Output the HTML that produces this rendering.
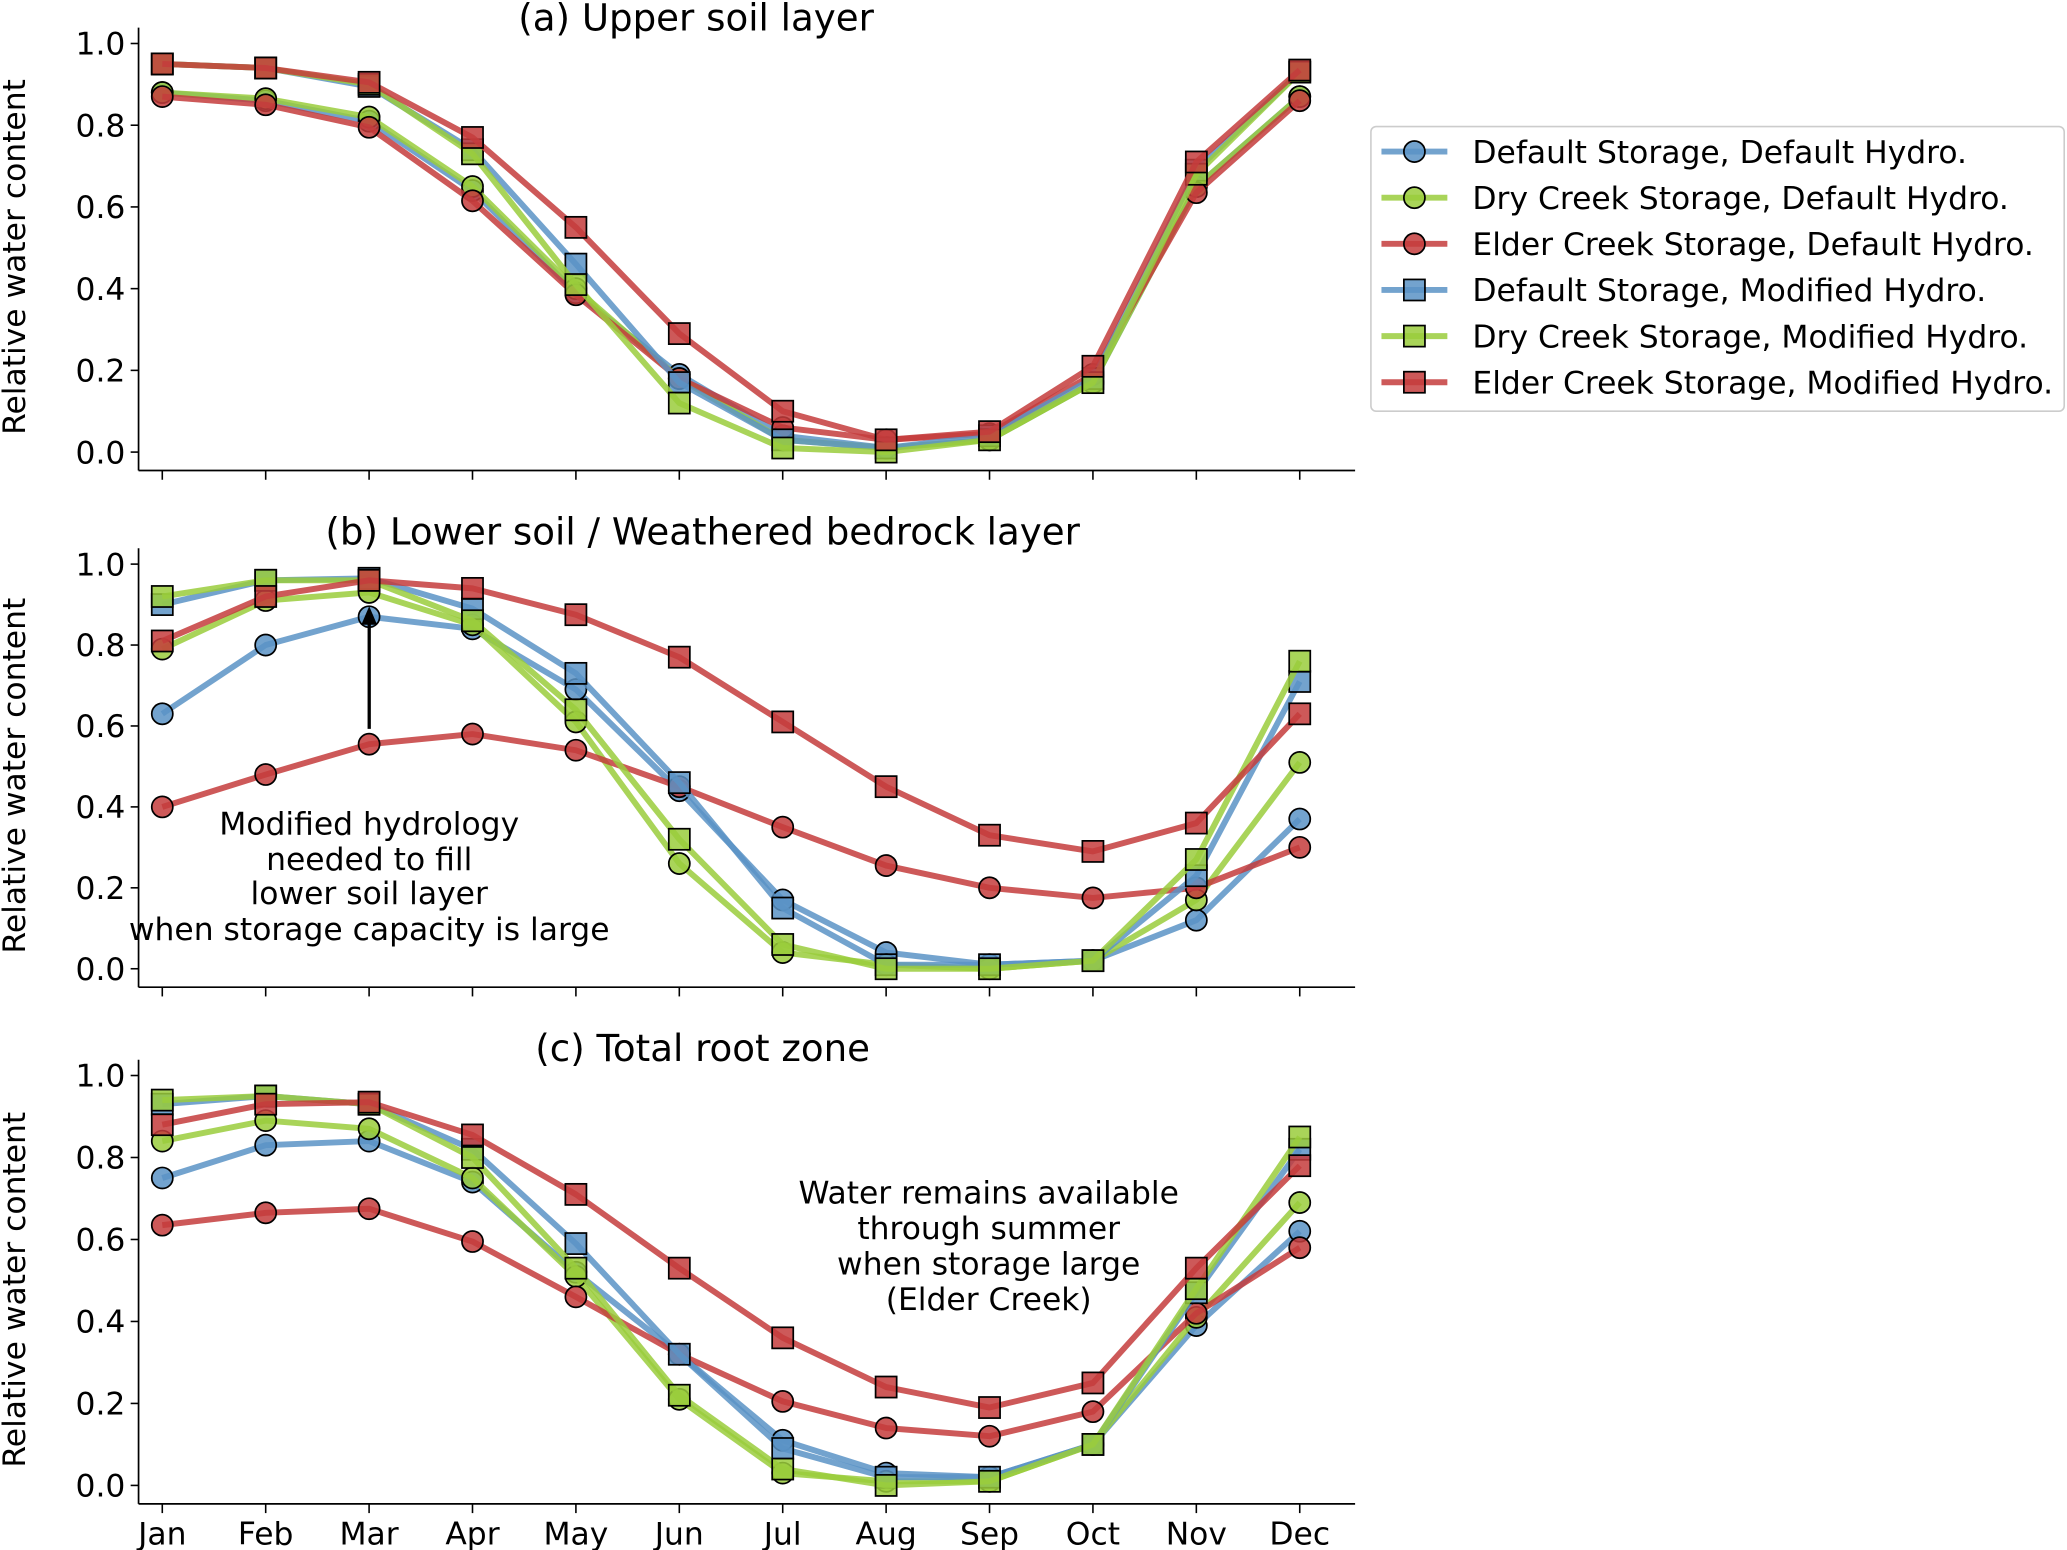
<!DOCTYPE html>
<html><head><meta charset="utf-8"><style>
html,body{margin:0;padding:0;background:#fff;}
svg{display:block;font-family:"DejaVu Sans","Liberation Sans",sans-serif;}
</style></head><body>
<svg id="chart" width="2067" height="1550" viewBox="0 0 1568 1176" xmlns="http://www.w3.org/2000/svg"></svg>
<script>
const months = ["Jan","Feb","Mar","Apr","May","Jun","Jul","Aug","Sep","Oct","Nov","Dec"];
const yTicks = [0,0.2,0.4,0.6,0.8,1.0];
const seriesNames = ["Default Storage, Default Hydro.","Dry Creek Storage, Default Hydro.","Elder Creek Storage, Default Hydro.","Default Storage, Modified Hydro.","Dry Creek Storage, Modified Hydro.","Elder Creek Storage, Modified Hydro."];
const panelTitles = ["(a)  Upper soil layer","(b) Lower soil / Weathered bedrock layer","(c) Total root zone"];
const upperData = [
 [.88,.86,.81,.64,.39,.19,.04,.01,.03,.17,.65,.87],
 [.88,.865,.82,.65,.40,.18,.03,.01,.03,.17,.65,.87],
 [.87,.85,.795,.615,.385,.18,.06,.03,.045,.19,.635,.86],
 [.95,.94,.895,.74,.46,.17,.03,.01,.04,.18,.69,.93],
 [.95,.94,.90,.73,.41,.12,.01,0,.03,.17,.68,.93],
 [.95,.94,.905,.77,.55,.29,.10,.03,.05,.21,.71,.935]];
const lowerData = [
 [.63,.80,.87,.84,.69,.44,.17,.04,.01,.02,.12,.37],
 [.79,.91,.93,.85,.61,.26,.04,.01,0,.02,.17,.51],
 [.40,.48,.555,.58,.54,.45,.35,.255,.20,.175,.20,.30],
 [.90,.96,.965,.89,.73,.46,.15,.01,.01,.02,.23,.71],
 [.92,.96,.96,.86,.64,.32,.06,0,0,.02,.27,.76],
 [.81,.92,.96,.94,.875,.77,.61,.45,.33,.29,.36,.63]];
const totalData = [
 [.75,.83,.84,.74,.52,.32,.11,.03,.02,.10,.39,.62],
 [.84,.89,.87,.75,.51,.21,.03,.01,.01,.10,.41,.69],
 [.635,.665,.675,.595,.46,.32,.205,.14,.12,.18,.42,.58],
 [.93,.95,.93,.82,.59,.32,.09,.02,.02,.10,.47,.82],
 [.94,.95,.93,.80,.53,.22,.04,0,.01,.10,.48,.85],
 [.88,.93,.935,.855,.71,.53,.36,.24,.19,.25,.53,.78]];

const colors=["#5b93c5","#9acd3c","#c43c3c","#5b93c5","#9acd3c","#c43c3c"];
const shapes=["c","c","c","s","s","s"];
const NS="http://www.w3.org/2000/svg";
const svg=document.getElementById('chart');
function el(tag,attrs,parent){const e=document.createElementNS(NS,tag);for(const k in attrs)e.setAttribute(k,attrs[k]);(parent||svg).appendChild(e);return e;}
function txt(s,attrs,parent){const t=el('text',attrs,parent);t.textContent=s;return t;}
const FS=23.8;
const X0=123,X1=986;
const xs=i=>X0+(X1-X0)*i/11;
const panels=[{d:upperData,top:33,bot:343,axis:357,tY:13},{d:lowerData,top:428,bot:735,axis:749,tY:403},{d:totalData,top:816,bot:1127,axis:1141,tY:795}];
const pnames=['upper-soil-panel','lower-soil-panel','total-root-zone-panel'];
panels.forEach((p,pi)=>{
 const g=el('g',{});
 
 
 const ys=v=>p.bot-(p.bot-p.top)*v;
 const sl=el('line',{x1:105,x2:105,y1:p.top-12,y2:p.axis,stroke:'#000','stroke-width':1.3},g);
 
 const bl=el('line',{x1:105,x2:1028,y1:p.axis,y2:p.axis,stroke:'#000','stroke-width':1.3},g);
 
 yTicks.forEach(v=>{
  el('line',{x1:99,x2:105,y1:ys(v),y2:ys(v),stroke:'#000','stroke-width':1.2},g);
  const t=txt(v.toFixed(1),{x:95,y:ys(v)+8.5,'text-anchor':'end','font-size':FS},g);
  
 });
 months.forEach((m,i)=>{
  el('line',{x1:xs(i),x2:xs(i),y1:p.axis,y2:p.axis+7,stroke:'#000','stroke-width':1.2},g);
  if(pi===2){const t=txt(m,{x:xs(i),y:1172,'text-anchor':'middle','font-size':FS},g);
   }
 });
 const yl=txt('Relative water content',{x:0,y:0,'text-anchor':'middle','font-size':FS,transform:`translate(19,${(p.top+p.axis)/2}) rotate(-90)`},g);
 
 const tt=txt(panelTitles[pi],{x:pi===0?528:533,y:p.tY+10,'text-anchor':'middle','font-size':28.2},g);
 
 p.d.forEach((vals,si)=>{
  const sg=el('g',{},g);
  
  const pts=vals.map((v,i)=>xs(i)+','+ys(v)).join(' ');
  el('polyline',{points:pts,fill:'none',stroke:colors[si],'stroke-width':4.5,'stroke-opacity':0.85,'stroke-linejoin':'round'},sg);
  vals.forEach((v,i)=>{
   let m;
   if(shapes[si]==='c')m=el('circle',{cx:xs(i),cy:ys(v),r:8,fill:colors[si],'fill-opacity':0.85,stroke:'#000','stroke-width':1.3},sg);
   else m=el('rect',{x:xs(i)-8,y:ys(v)-8,width:16,height:16,fill:colors[si],'fill-opacity':0.85,stroke:'#000','stroke-width':1.3},sg);
   
  });
 });
});
const ar=el('line',{x1:280,y1:553,x2:280,y2:470,stroke:'#000','stroke-width':2.5});

const ah=el('polygon',{points:'280,460 274,474 286,474',fill:'#000'});

[["Modified hydrology",633],["needed to fill",660],["lower soil layer",686],["when storage capacity is large",713]].forEach(([s,y])=>{
 const t=txt(s,{x:280,y:y,'text-anchor':'middle','font-size':FS});
 
});
[["Water remains available",913],["through summer",940],["when storage large",967],["(Elder Creek)",994]].forEach(([s,y])=>{
 const t=txt(s,{x:750,y:y,'text-anchor':'middle','font-size':FS});
 
});
const lg=el('g',{});

el('rect',{x:1040,y:96,width:526,height:216,rx:4,fill:'#fff',stroke:'#ccc','stroke-width':1.2},lg);
seriesNames.forEach((n,i)=>{
 const y=115+35*i;
 const eg=el('g',{},lg);
 
 el('line',{x1:1048,x2:1098,y1:y,y2:y,stroke:colors[i],'stroke-width':4.5,'stroke-opacity':0.85},eg);
 if(shapes[i]==='c')el('circle',{cx:1073,cy:y,r:8,fill:colors[i],'fill-opacity':0.85,stroke:'#000','stroke-width':1.3},eg);
 else el('rect',{x:1065,y:y-8,width:16,height:16,fill:colors[i],'fill-opacity':0.85,stroke:'#000','stroke-width':1.3},eg);
 txt(n,{x:1117,y:y+8.5,'font-size':FS},eg);
});
</script>
</body></html>
